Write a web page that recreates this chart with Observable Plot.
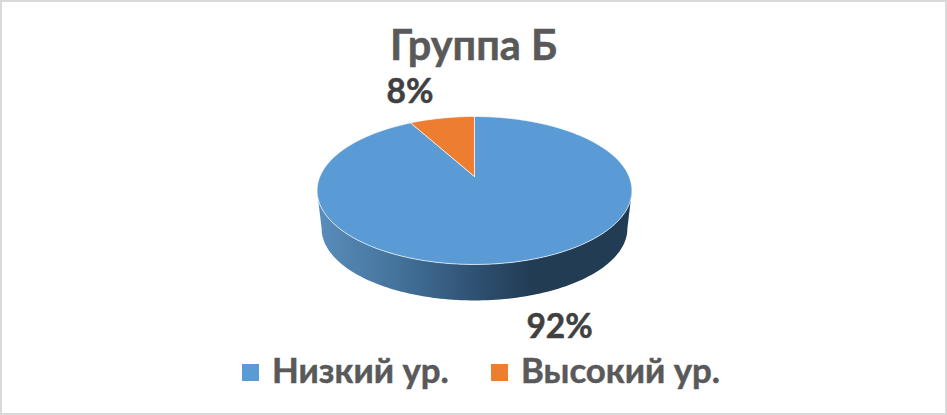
<!DOCTYPE html>
<html>
<head>
<meta charset="utf-8">
<script src="https://cdn.jsdelivr.net/npm/d3@7"></script>
<script src="https://cdn.jsdelivr.net/npm/@observablehq/plot@0.6"></script>
<style>
  html, body { margin: 0; padding: 0; background: #fff; }
  #frame { width: 947px; height: 415px; box-sizing: border-box; border: 2px solid #d9d9d9; overflow: hidden; font-family: Lato, "Open Sans", sans-serif; font-weight: 700; }
  #title { height: 68px; box-sizing: border-box; padding-top: 19px; text-align: center; font-size: 41.5px; line-height: 46px; color: #595959; -webkit-text-stroke: 0.5px #595959; }
  #chart svg { display: block; }
  #legend { height: 66px; font-size: 34.8px; color: #595959; -webkit-text-stroke: 0.5px #595959; }
  .sw { display: inline-block; width: 17px; height: 17px; }
</style>
</head>
<body>
<div id="frame">
  <div id="title"></div>
  <div id="chart"></div>
  <div id="legend"></div>
</div>
<script>
const titleText = "Группа Б";
const categories = ["Низкий ур.", "Высокий ур."];
const values = [92, 8];
const colors = ["#5B9BD5", "#ED7D31"];

// Perspective of the tilted disc
const k = 0.189, ax = 0.9816, by = 0.964, y0 = 0.189;
const bottomScale = 0.971, bottomY = -0.331;
function project(u, v, depth) {
  const den = 1 + k * v;
  const s = depth ? bottomScale : 1;
  return { x: s * ax * u / den, y: (depth ? bottomY : y0) + s * by * v / den };
}
// clockwise angle from 12 o'clock
const rim = (a, depth) => project(Math.sin(a), Math.cos(a), depth);
const total = d3.sum(values);
const cum = d3.cumsum(values);
const slices = categories.map((name, i) => {
  const a0 = (i ? cum[i - 1] : 0) / total * 2 * Math.PI;
  const a1 = cum[i] / total * 2 * Math.PI;
  const steps = Math.max(4, Math.ceil((a1 - a0) * 60));
  const pts = [project(0, 0, false)];
  for (let j = 0; j <= steps; j++) pts.push(rim(a0 + (a1 - a0) * j / steps, false));
  pts.push(pts[0]);
  return { name, value: values[i], color: colors[i], pts, mid: rim((a0 + a1) / 2, false) };
});

// Visible wall: the near half of the rim, top and bottom outlines
const edge = Math.asin(k);
const wallStart = Math.PI / 2 + edge, wallEnd = 3 * Math.PI / 2 - edge;
const wallA = d3.range(0, 121).map(j => wallStart + (wallEnd - wallStart) * j / 120);
const wall = [...wallA.map(a => rim(a, false)), ...wallA.slice().reverse().map(a => rim(a, true))];
wall.push(wall[0]);

const labelOffsets = [[38, 66], [-32, -26]];

const plot = Plot.plot({
  width: 943, height: 275,
  marginTop: 0, marginBottom: 0, marginLeft: 0, marginRight: 0,
  x: { domain: [-1, 1], range: [314.5, 629.5], axis: null },
  y: { domain: [-1, 1], range: [194, 46], axis: null },
  marks: [
    Plot.line(wall, { x: "x", y: "y", fill: "url(#wallGrad)", stroke: "none" }),
    ...slices.map(s => Plot.line(s.pts, { x: "x", y: "y", fill: s.color, stroke: "#fff", strokeOpacity: 0.75, strokeWidth: 0.9 })),
    ...slices.map((s, i) => Plot.text([s], {
      x: d => d.mid.x, y: d => d.mid.y, text: d => d.value + "%",
      dx: labelOffsets[i][0], dy: labelOffsets[i][1],
      fontSize: 33.5, fontWeight: 700, fill: "#404040", stroke: "#404040", strokeWidth: 0.5,
      fontFamily: "Lato, 'Open Sans', sans-serif"
    }))
  ]
});
plot.insertAdjacentHTML("afterbegin",
  '<defs><linearGradient id="wallGrad" x1="0" x2="1" y1="0" y2="0">' +
  '<stop offset="0" stop-color="#5a8dbc"/><stop offset="0.25" stop-color="#44739c"/>' +
  '<stop offset="0.5" stop-color="#2f5173"/><stop offset="0.68" stop-color="#223c54"/>' +
  '<stop offset="1" stop-color="#223c54"/></linearGradient></defs>');
document.getElementById("chart").append(plot);
document.getElementById("title").textContent = titleText;

const legend = document.getElementById("legend");
const swatchX = [242, 491], textGap = 13;
categories.forEach((name, i) => {
  const sw = document.createElement("span");
  sw.className = "sw";
  sw.style.background = colors[i];
  sw.style.position = "absolute";
  sw.style.left = swatchX[i] + "px";
  sw.style.top = "364px";
  const tx = document.createElement("span");
  tx.textContent = name;
  tx.style.position = "absolute";
  tx.style.left = (swatchX[i] + 17 + textGap) + "px";
  tx.style.top = "349px";
  tx.style.lineHeight = "42px";
  legend.append(sw, tx);
});
</script>
</body>
</html>
